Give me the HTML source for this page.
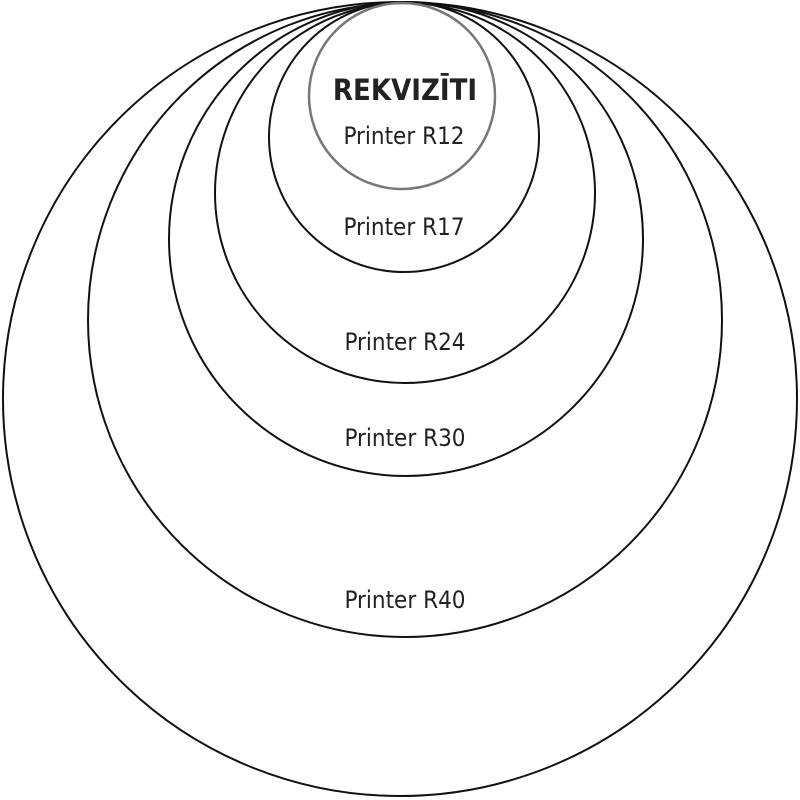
<!DOCTYPE html>
<html><head><meta charset="utf-8"><style>
html,body{margin:0;padding:0;background:#fff;}
svg{display:block;}
text{font-family:"DejaVu Sans Condensed","Liberation Sans Narrow","Liberation Sans",sans-serif;font-size:24px;fill:#222;text-anchor:middle;}
</style></head><body>
<svg width="800" height="800" viewBox="0 0 800 800">
<g fill="none" stroke="#111" stroke-width="2">
<circle cx="400" cy="399" r="397"/>
<circle cx="405" cy="320" r="317"/>
<circle cx="406" cy="239" r="237"/>
<circle cx="405" cy="193" r="190"/>
<circle cx="404" cy="137" r="135"/>
<circle cx="402" cy="96" r="93" stroke="#777" stroke-width="2.5"/>
</g>
<text x="405" y="100" style="font-weight:bold;font-size:29px;fill:#222">REKVIZĪTI</text>
<text x="404" y="144">Printer R12</text>
<text x="404" y="235">Printer R17</text>
<text x="405" y="350">Printer R24</text>
<text x="405" y="446">Printer R30</text>
<text x="405" y="608">Printer R40</text>
</svg>
</body></html>
